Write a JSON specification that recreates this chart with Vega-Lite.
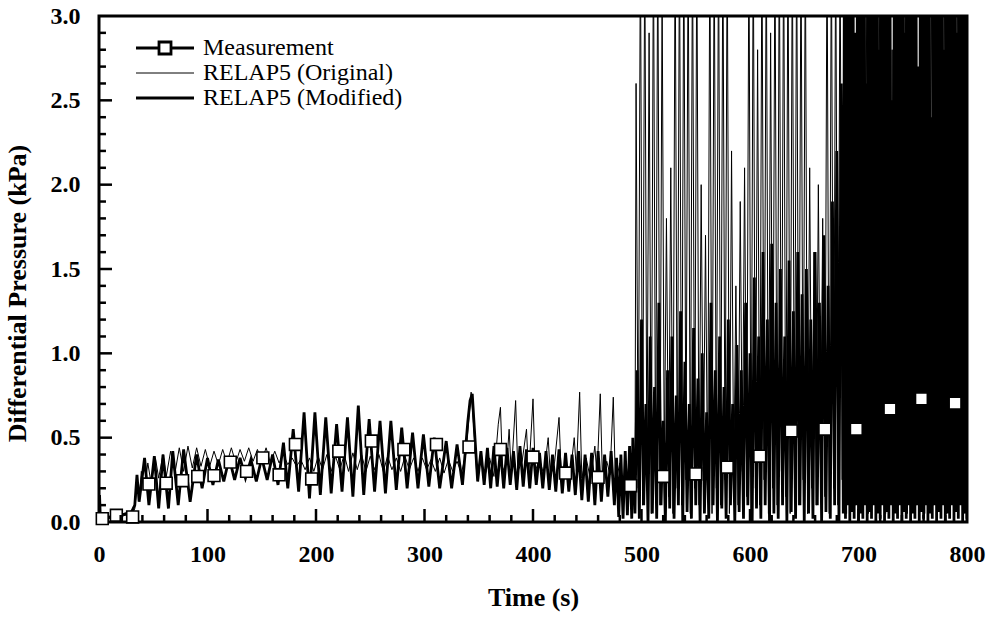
{
"$schema": "https://vega.github.io/schema/vega-lite/v6.json",
"width": 868, "height": 506,
"autosize": {"type": "none"},
"padding": {"left": 99, "top": 16, "right": 26, "bottom": 98},
"background": "white",
"config": {
  "view": {"stroke": "black", "strokeWidth": 3},
  "font": "Liberation Serif",
  "axis": {"domain": false, "ticks": false, "tickSize": 0, "grid": false,
    "labelFont": "Liberation Serif", "labelFontWeight": "bold", "labelFontSize": 24, "labelColor": "black", "labelOverlap": false, "labelFlush": false, "labelBound": false,
    "titleFont": "Liberation Serif", "titleFontWeight": "bold", "titleFontSize": 26, "titleColor": "black"}
},
"resolve": {"axis": {"x": "independent", "y": "independent"}},
"datasets": {
"mod": [
{"t":0,"p":0},{"t":0.5,"p":0.16},{"t":1.2,"p":0.03},{"t":5,"p":0.02},{"t":10,"p":0.03},{"t":15,"p":0.03},{"t":20,"p":0.04},{"t":25,"p":0.05},{"t":30,"p":0.06},{"t":33,"p":0.1},{"t":35,"p":0.28},{"t":37,"p":0.12},{"t":42,"p":0.38},{"t":46,"p":0.1},{"t":51,"p":0.39},{"t":55,"p":0.08},{"t":59,"p":0.4},{"t":64,"p":0.08},{"t":68,"p":0.42},{"t":73,"p":0.1},{"t":78,"p":0.43},{"t":84,"p":0.12},{"t":90,"p":0.4},{"t":95,"p":0.2},{"t":100,"p":0.38},{"t":105,"p":0.22},{"t":110,"p":0.37},{"t":115,"p":0.24},{"t":120,"p":0.38},{"t":125,"p":0.25},{"t":130,"p":0.38},{"t":135,"p":0.26},{"t":140,"p":0.37},{"t":145,"p":0.24},{"t":150,"p":0.38},{"t":155,"p":0.25},{"t":160,"p":0.4},{"t":165,"p":0.22},{"t":170,"p":0.47},{"t":174,"p":0.2},{"t":179,"p":0.55},{"t":184,"p":0.18},{"t":189,"p":0.65},{"t":194,"p":0.14},{"t":199,"p":0.65},{"t":204,"p":0.16},{"t":209,"p":0.62},{"t":214,"p":0.17},{"t":219,"p":0.58},{"t":224,"p":0.18},{"t":229,"p":0.62},{"t":234,"p":0.15},{"t":239,"p":0.69},{"t":244,"p":0.16},{"t":249,"p":0.61},{"t":254,"p":0.18},{"t":259,"p":0.6},{"t":264,"p":0.17},{"t":269,"p":0.6},{"t":274,"p":0.19},{"t":279,"p":0.56},{"t":284,"p":0.2},{"t":289,"p":0.53},{"t":294,"p":0.2},{"t":299,"p":0.52},{"t":304,"p":0.21},{"t":309,"p":0.5},{"t":314,"p":0.2},{"t":320,"p":0.48},{"t":325,"p":0.2},{"t":330,"p":0.46},{"t":335,"p":0.22},{"t":340,"p":0.6},{"t":342,"p":0.72},{"t":344,"p":0.76},{"t":346,"p":0.55},{"t":349,"p":0.24},{"t":352,"p":0.42},{"t":355,"p":0.22},{"t":358,"p":0.44},{"t":361,"p":0.2},{"t":364,"p":0.45},{"t":367,"p":0.21},{"t":370,"p":0.43},{"t":373,"p":0.2},{"t":376,"p":0.44},{"t":379,"p":0.22},{"t":382,"p":0.42},{"t":385,"p":0.19},{"t":388,"p":0.45},{"t":391,"p":0.21},{"t":394,"p":0.43},{"t":397,"p":0.2},{"t":400,"p":0.44},{"t":403,"p":0.22},{"t":406,"p":0.41},{"t":409,"p":0.2},{"t":412,"p":0.42},{"t":415,"p":0.19},{"t":418,"p":0.4},{"t":421,"p":0.18},{"t":424,"p":0.43},{"t":427,"p":0.17},{"t":430,"p":0.41},{"t":433,"p":0.18},{"t":436,"p":0.4},{"t":439,"p":0.16},{"t":442,"p":0.42},{"t":445,"p":0.13},{"t":448,"p":0.4},{"t":451,"p":0.12},{"t":454,"p":0.41},{"t":457,"p":0.1},{"t":460,"p":0.42},{"t":463,"p":0.12},{"t":466,"p":0.4},{"t":469,"p":0.15},{"t":472,"p":0.42},{"t":475,"p":0.1},{"t":477,"p":0.38},{"t":479,"p":0.03},{"t":481,"p":0.4},{"t":483,"p":0.02},{"t":485,"p":0.42},{"t":487,"p":0.04},{"t":489,"p":0.45},{"t":491,"p":0.02},{"t":492,"p":0.5},
{"t":494,"p":0.05},{"t":496,"p":0.9},{"t":498,"p":0.02},{"t":500,"p":1.2},{"t":502,"p":0.1},{"t":504,"p":0.7},{"t":506,"p":0.0},{"t":508,"p":1.1},{"t":510,"p":0.05},{"t":512,"p":0.8},{"t":514,"p":0.02},{"t":516,"p":1.3},{"t":518,"p":0.1},{"t":520,"p":0.6},{"t":522,"p":0.0},{"t":524,"p":0.9},{"t":526,"p":0.08},{"t":528,"p":1.1},{"t":530,"p":0.02},{"t":532,"p":0.75},{"t":534,"p":0.1},{"t":536,"p":1.25},{"t":538,"p":0.0},{"t":540,"p":0.95},{"t":542,"p":0.06},{"t":544,"p":0.7},{"t":546,"p":0.02},{"t":548,"p":1.15},{"t":550,"p":0.1},{"t":552,"p":0.85},{"t":554,"p":0.0},{"t":556,"p":1.0},{"t":558,"p":0.05},{"t":560,"p":0.65},{"t":562,"p":0.02},{"t":564,"p":1.3},{"t":566,"p":0.1},{"t":568,"p":0.9},{"t":570,"p":0.0},{"t":572,"p":1.1},{"t":574,"p":0.08},{"t":576,"p":0.8},{"t":578,"p":0.02},{"t":580,"p":1.2},{"t":582,"p":0.1},{"t":584,"p":0.7},{"t":586,"p":0.0},{"t":588,"p":1.05},{"t":590,"p":0.06},{"t":592,"p":0.9},{"t":594,"p":0.02},{"t":596,"p":1.3},{"t":598,"p":0.1},{"t":600,"p":1.0},{"t":602,"p":0.0},{"t":604,"p":1.45},{"t":606,"p":0.08},{"t":608,"p":1.1},{"t":610,"p":0.02},{"t":612,"p":1.6},{"t":614,"p":0.1},{"t":616,"p":1.2},{"t":618,"p":0.0},{"t":620,"p":1.65},{"t":622,"p":0.05},{"t":624,"p":1.3},{"t":626,"p":0.02},{"t":628,"p":1.5},{"t":630,"p":0.1},{"t":632,"p":1.1},{"t":634,"p":0.0},{"t":636,"p":1.55},{"t":638,"p":0.06},{"t":640,"p":1.25},{"t":642,"p":0.02},{"t":644,"p":1.6},{"t":646,"p":0.1},{"t":648,"p":1.35},{"t":650,"p":0.0},{"t":652,"p":1.5},{"t":654,"p":0.05},{"t":656,"p":1.2},{"t":658,"p":0.02},{"t":660,"p":1.6},{"t":662,"p":0.1},{"t":664,"p":1.3},{"t":666,"p":0.0},{"t":668,"p":1.7},{"t":670,"p":0.06},{"t":672,"p":1.4},{"t":674,"p":0.02},{"t":676,"p":1.9},{"t":678,"p":0.1},{"t":680,"p":2.2},{"t":682,"p":0.0},{"t":684,"p":2.6},
{"t":686,"p":0.05},{"t":687,"p":3.5},{"t":688,"p":0.02},{"t":689,"p":3.5},{"t":690,"p":0.1},{"t":691,"p":3.5},{"t":692,"p":0.0},{"t":693,"p":3.5},{"t":694,"p":0.06},{"t":695,"p":3.5},{"t":696,"p":0.02},{"t":697,"p":2.9},{"t":698,"p":0.1},{"t":699,"p":3.5},{"t":700,"p":0.0},{"t":701,"p":3.5},{"t":702,"p":0.05},{"t":703,"p":3.5},{"t":704,"p":0.02},{"t":705,"p":3.5},{"t":706,"p":0.1},{"t":707,"p":2.6},{"t":708,"p":0.0},{"t":709,"p":3.5},{"t":710,"p":0.06},{"t":711,"p":3.5},{"t":712,"p":0.02},{"t":713,"p":3.5},{"t":714,"p":0.1},{"t":715,"p":3.5},{"t":716,"p":0.0},{"t":717,"p":3.5},{"t":718,"p":0.05},{"t":719,"p":2.8},{"t":720,"p":0.02},{"t":721,"p":3.5},{"t":722,"p":0.1},{"t":723,"p":3.5},{"t":724,"p":0.0},{"t":725,"p":3.5},{"t":726,"p":0.06},{"t":727,"p":3.5},{"t":728,"p":0.02},{"t":729,"p":3.5},{"t":730,"p":0.1},{"t":731,"p":2.5},{"t":732,"p":0.0},{"t":733,"p":3.5},{"t":734,"p":0.05},{"t":735,"p":3.5},{"t":736,"p":0.02},{"t":737,"p":3.5},{"t":738,"p":0.1},{"t":739,"p":3.5},{"t":740,"p":0.0},{"t":741,"p":3.5},{"t":742,"p":0.06},{"t":743,"p":2.9},{"t":744,"p":0.02},{"t":745,"p":3.5},{"t":746,"p":0.1},{"t":747,"p":3.5},{"t":748,"p":0.0},{"t":749,"p":3.5},{"t":750,"p":0.05},{"t":751,"p":3.5},{"t":752,"p":0.02},{"t":753,"p":3.5},{"t":754,"p":0.1},{"t":755,"p":2.7},{"t":756,"p":0.0},{"t":757,"p":3.5},{"t":758,"p":0.06},{"t":759,"p":3.5},{"t":760,"p":0.02},{"t":761,"p":3.5},{"t":762,"p":0.1},{"t":763,"p":3.5},{"t":764,"p":0.0},{"t":765,"p":3.5},{"t":766,"p":0.05},{"t":767,"p":2.4},{"t":768,"p":0.02},{"t":769,"p":3.5},{"t":770,"p":0.1},{"t":771,"p":3.5},{"t":772,"p":0.0},{"t":773,"p":3.5},{"t":774,"p":0.06},{"t":775,"p":3.5},{"t":776,"p":0.02},{"t":777,"p":3.5},{"t":778,"p":0.1},{"t":779,"p":2.8},{"t":780,"p":0.0},{"t":781,"p":3.5},{"t":782,"p":0.05},{"t":783,"p":3.5},{"t":784,"p":0.02},{"t":785,"p":3.5},{"t":786,"p":0.1},{"t":787,"p":3.5},{"t":788,"p":0.0},{"t":789,"p":3.5},{"t":790,"p":0.06},{"t":791,"p":2.9},{"t":792,"p":0.02},{"t":793,"p":3.5},{"t":794,"p":0.1},{"t":795,"p":3.5},{"t":796,"p":0.0},{"t":797,"p":3.5},{"t":798,"p":0.05},{"t":799,"p":3.5},{"t":800,"p":0.02}
],
"orig": [
{"t":0,"p":0},{"t":0.6,"p":0.14},{"t":1.2,"p":0.02},{"t":4,"p":0.01},{"t":8,"p":0.02},{"t":12,"p":0.02},{"t":16,"p":0.03},{"t":20,"p":0.03},{"t":24,"p":0.04},{"t":28,"p":0.04},{"t":31,"p":0.05},{"t":33,"p":0.08},{"t":35,"p":0.22},{"t":37,"p":0.14},{"t":39,"p":0.3},{"t":42,"p":0.2},{"t":45,"p":0.35},{"t":48,"p":0.23},{"t":52,"p":0.38},{"t":55,"p":0.26},{"t":59,"p":0.4},{"t":62,"p":0.27},{"t":66,"p":0.42},{"t":70,"p":0.29},{"t":74,"p":0.44},{"t":78,"p":0.3},{"t":82,"p":0.45},{"t":86,"p":0.32},{"t":90,"p":0.44},{"t":94,"p":0.33},{"t":98,"p":0.43},{"t":102,"p":0.33},{"t":106,"p":0.42},{"t":110,"p":0.34},{"t":114,"p":0.43},{"t":118,"p":0.35},{"t":122,"p":0.44},{"t":126,"p":0.35},{"t":130,"p":0.43},{"t":134,"p":0.36},{"t":138,"p":0.44},{"t":142,"p":0.36},{"t":146,"p":0.43},{"t":150,"p":0.36},{"t":154,"p":0.44},{"t":158,"p":0.35},{"t":162,"p":0.42},{"t":166,"p":0.35},{"t":170,"p":0.4},{"t":174,"p":0.34},{"t":178,"p":0.38},{"t":182,"p":0.33},
{"t":186,"p":0.37},{"t":190,"p":0.31},{"t":194,"p":0.38},{"t":198,"p":0.3},{"t":202,"p":0.39},{"t":206,"p":0.31},{"t":210,"p":0.4},{"t":214,"p":0.3},{"t":218,"p":0.39},{"t":222,"p":0.31},{"t":226,"p":0.4},{"t":230,"p":0.3},{"t":234,"p":0.41},{"t":238,"p":0.31},{"t":242,"p":0.4},{"t":246,"p":0.3},{"t":250,"p":0.39},{"t":254,"p":0.31},{"t":258,"p":0.4},{"t":262,"p":0.3},{"t":266,"p":0.39},{"t":270,"p":0.31},{"t":274,"p":0.38},{"t":278,"p":0.3},{"t":282,"p":0.39},{"t":286,"p":0.31},{"t":290,"p":0.38},{"t":294,"p":0.3},{"t":298,"p":0.38},{"t":302,"p":0.31},{"t":306,"p":0.37},{"t":310,"p":0.3},{"t":314,"p":0.38},{"t":318,"p":0.29},{"t":322,"p":0.37},{"t":326,"p":0.3},{"t":330,"p":0.36},{"t":334,"p":0.29},{"t":338,"p":0.4},{"t":341,"p":0.62},{"t":343,"p":0.77},{"t":345,"p":0.6},{"t":348,"p":0.3},{"t":352,"p":0.36},{"t":356,"p":0.28},{"t":360,"p":0.38},{"t":364,"p":0.27},{"t":368,"p":0.58},{"t":370,"p":0.68},{"t":372,"p":0.3},{"t":376,"p":0.36},{"t":378,"p":0.55},{"t":380,"p":0.28},{"t":384,"p":0.72},{"t":386,"p":0.3},{"t":390,"p":0.36},{"t":394,"p":0.55},{"t":396,"p":0.27},{"t":400,"p":0.73},{"t":402,"p":0.3},{"t":406,"p":0.37},{"t":410,"p":0.28},{"t":414,"p":0.5},{"t":416,"p":0.27},{"t":420,"p":0.36},{"t":424,"p":0.62},{"t":426,"p":0.28},{"t":430,"p":0.35},{"t":434,"p":0.26},{"t":438,"p":0.5},{"t":440,"p":0.3},{"t":443,"p":0.77},{"t":445,"p":0.26},{"t":449,"p":0.38},{"t":453,"p":0.25},{"t":457,"p":0.45},{"t":459,"p":0.27},{"t":462,"p":0.76},{"t":464,"p":0.25},{"t":468,"p":0.36},{"t":471,"p":0.28},{"t":474,"p":0.74},{"t":476,"p":0.22},{"t":480,"p":0.35},{"t":483,"p":0.2},{"t":486,"p":0.33},{"t":489,"p":0.18},{"t":492,"p":0.3},{"t":494,"p":0.22},
{"t":495,"p":2.6},{"t":497,"p":0.2},{"t":499,"p":3.5},{"t":501,"p":0.1},{"t":503,"p":3.5},{"t":505,"p":0.25},{"t":507,"p":2.9},{"t":509,"p":0.05},{"t":511,"p":3.5},{"t":513,"p":0.2},{"t":515,"p":3.5},{"t":517,"p":0.1},{"t":519,"p":3.2},{"t":521,"p":0.3},{"t":523,"p":1.8},{"t":525,"p":0.15},{"t":527,"p":2.1},{"t":529,"p":0.05},{"t":531,"p":3.5},{"t":533,"p":0.2},{"t":535,"p":3.5},{"t":537,"p":0.1},{"t":539,"p":3.5},{"t":541,"p":0.25},{"t":543,"p":3.5},{"t":545,"p":0.05},{"t":547,"p":3.5},{"t":549,"p":0.2},{"t":551,"p":3.5},{"t":553,"p":0.1},{"t":555,"p":2.0},{"t":557,"p":0.3},{"t":559,"p":1.7},{"t":561,"p":0.15},{"t":563,"p":3.5},{"t":565,"p":0.05},{"t":567,"p":3.5},{"t":569,"p":0.2},{"t":571,"p":3.5},{"t":573,"p":0.1},{"t":575,"p":3.5},{"t":577,"p":0.25},{"t":579,"p":3.5},{"t":581,"p":0.05},{"t":583,"p":2.2},{"t":585,"p":0.2},{"t":587,"p":1.4},{"t":589,"p":0.1},{"t":591,"p":1.9},{"t":593,"p":0.3},{"t":595,"p":2.1},{"t":597,"p":0.15},{"t":599,"p":3.5},{"t":601,"p":0.05},{"t":603,"p":3.5},{"t":605,"p":0.2},{"t":607,"p":2.8},{"t":609,"p":0.1},{"t":611,"p":3.5},{"t":613,"p":0.25},{"t":615,"p":3.5},{"t":617,"p":0.05},{"t":619,"p":2.9},{"t":621,"p":0.2},{"t":623,"p":3.5},{"t":625,"p":0.1},{"t":627,"p":3.5},{"t":629,"p":0.3},{"t":631,"p":3.5},{"t":633,"p":0.15},{"t":635,"p":3.5},{"t":637,"p":0.05},{"t":639,"p":3.5},{"t":641,"p":0.2},{"t":643,"p":3.5},{"t":645,"p":0.1},{"t":647,"p":3.5},{"t":649,"p":0.25},{"t":651,"p":3.5},{"t":653,"p":0.05},{"t":655,"p":2.1},{"t":657,"p":0.2},{"t":659,"p":1.6},{"t":661,"p":0.1},{"t":663,"p":2.0},{"t":665,"p":0.3},{"t":667,"p":1.8},{"t":669,"p":0.15},{"t":671,"p":3.5},{"t":673,"p":0.05},{"t":675,"p":3.5},{"t":677,"p":0.2},{"t":679,"p":3.5},{"t":681,"p":0.1},{"t":683,"p":3.5},{"t":685,"p":0.25},{"t":687,"p":3.5},{"t":689,"p":0.05},{"t":691,"p":3.5},{"t":693,"p":0.2},{"t":695,"p":2.7},{"t":697,"p":0.1},{"t":699,"p":3.5},{"t":701,"p":0.3},{"t":703,"p":3.5},{"t":705,"p":0.15},{"t":707,"p":3.5},{"t":709,"p":0.05},{"t":711,"p":2.5},{"t":713,"p":0.2},{"t":715,"p":3.5},{"t":717,"p":0.1},{"t":719,"p":3.5},{"t":721,"p":0.25},{"t":723,"p":3.5},{"t":725,"p":0.05},{"t":727,"p":3.5},{"t":729,"p":0.2},{"t":731,"p":2.8},{"t":733,"p":0.1},{"t":735,"p":3.5},{"t":737,"p":0.3},{"t":739,"p":3.5},{"t":741,"p":0.15},{"t":743,"p":3.5},{"t":745,"p":0.05},{"t":747,"p":3.5},{"t":749,"p":0.2},{"t":751,"p":3.5},{"t":753,"p":0.1},{"t":755,"p":2.6},{"t":757,"p":0.25},{"t":759,"p":3.5},{"t":761,"p":0.05},{"t":763,"p":3.5},{"t":765,"p":0.2},{"t":767,"p":3.5},{"t":769,"p":0.1},{"t":771,"p":3.5},{"t":773,"p":0.3},{"t":775,"p":2.9},{"t":777,"p":0.15},{"t":779,"p":3.5},{"t":781,"p":0.05},{"t":783,"p":3.5},{"t":785,"p":0.2},{"t":787,"p":3.5},{"t":789,"p":0.1},{"t":791,"p":3.5},{"t":793,"p":0.25},{"t":795,"p":3.5},{"t":797,"p":0.05},{"t":799,"p":3.5}
],
"meas": [
{"t":3,"p":0.02},{"t":16,"p":0.04},{"t":31,"p":0.03},{"t":46,"p":0.225},{"t":62,"p":0.23},{"t":77,"p":0.245},{"t":91,"p":0.27},{"t":106,"p":0.275},{"t":121,"p":0.355},{"t":136,"p":0.3},{"t":151,"p":0.38},{"t":166,"p":0.28},{"t":181,"p":0.46},{"t":196,"p":0.255},{"t":221,"p":0.42},{"t":251,"p":0.48},{"t":281,"p":0.43},{"t":311,"p":0.46},{"t":341,"p":0.445},{"t":370,"p":0.43},{"t":400,"p":0.385},{"t":430,"p":0.29},{"t":460,"p":0.265},{"t":490,"p":0.215},{"t":520,"p":0.27},{"t":550,"p":0.285},{"t":579,"p":0.325},{"t":609,"p":0.39},{"t":638,"p":0.54},{"t":669,"p":0.55},{"t":698,"p":0.55},{"t":729,"p":0.67},{"t":758,"p":0.73},{"t":789,"p":0.705}
],
"xMajor": [{"v":100},{"v":200},{"v":300},{"v":400},{"v":500},{"v":600},{"v":700}],
"xMinor": [{"v":20},{"v":40},{"v":60},{"v":80},{"v":120},{"v":140},{"v":160},{"v":180},{"v":220},{"v":240},{"v":260},{"v":280},{"v":320},{"v":340},{"v":360},{"v":380},{"v":420},{"v":440},{"v":460},{"v":480},{"v":520},{"v":540},{"v":560},{"v":580},{"v":620},{"v":640},{"v":660},{"v":680},{"v":720},{"v":740},{"v":760},{"v":780}],
"yMajor": [{"v":0.5},{"v":1.0},{"v":1.5},{"v":2.0},{"v":2.5}],
"yMinor": [{"v":0.1},{"v":0.2},{"v":0.3},{"v":0.4},{"v":0.6},{"v":0.7},{"v":0.8},{"v":0.9},{"v":1.1},{"v":1.2},{"v":1.3},{"v":1.4},{"v":1.6},{"v":1.7},{"v":1.8},{"v":1.9},{"v":2.1},{"v":2.2},{"v":2.3},{"v":2.4},{"v":2.6},{"v":2.7},{"v":2.8},{"v":2.9}]
},
"layer": [
{
  "data": {"name": "mod"},
  "mark": {"type": "line", "strokeWidth": 2.8, "clip": true},
  "encoding": {
    "x": {"field": "t", "type": "quantitative", "scale": {"domain": [0, 800], "nice": false},
      "axis": {"orient": "bottom", "title": "Time (s)", "values": [0,100,200,300,400,500,600,700,800], "format": "d",
        "labelPadding": 20, "titlePadding": 18}},
    "y": {"field": "p", "type": "quantitative", "scale": {"domain": [0, 3], "nice": false},
      "axis": {"orient": "left", "title": "Differential Pressure (kPa)", "values": [0,0.5,1.0,1.5,2.0,2.5,3.0], "format": ".1f",
        "labelPadding": 19, "titlePadding": 20, "titleY": 277}},
    "color": {"datum": "RELAP5 (Modified)", "type": "nominal",
      "scale": {"domain": ["Measurement", "RELAP5 (Original)", "RELAP5 (Modified)"], "range": ["black", "black", "black"]},
      "legend": {"title": null, "orient": "none", "legendX": 54, "legendY": 20, "labelFont": "Liberation Serif", "labelFontSize": 24, "labelFontWeight": "normal", "labelColor": "black", "labelLimit": 400, "labelOffset": 26, "rowPadding": 1, "symbolSize": 400, "symbolType": "stroke",
        "encode": {"symbols": {"update": {
          "shape": {"signal": "datum.value == 'Measurement' ? 'M-2.9,0H-0.6M0.6,0H2.9M-0.6,-0.6H0.6V0.6H-0.6Z' : 'M-2.9,0H2.9'"},
          "fill": {"value": "white"}, "stroke": {"value": "black"}, "opacity": {"value": 1}, "fillOpacity": {"value": 1}, "strokeOpacity": {"value": 1},
          "strokeWidth": {"signal": "datum.value == 'RELAP5 (Original)' ? 1 : 2.8"}}}}}}
  }
},
{
  "data": {"name": "orig"},
  "mark": {"type": "line", "strokeWidth": 1, "clip": true},
  "encoding": {
    "x": {"field": "t", "type": "quantitative", "axis": null},
    "y": {"field": "p", "type": "quantitative", "axis": null},
    "color": {"datum": "RELAP5 (Original)", "type": "nominal"}
  }
},
{
  "data": {"name": "meas"},
  "mark": {"type": "point", "shape": "square", "size": 140, "filled": true, "fill": "white", "stroke": "black", "strokeWidth": 1.6, "opacity": 1},
  "encoding": {
    "x": {"field": "t", "type": "quantitative", "axis": null},
    "y": {"field": "p", "type": "quantitative", "axis": null}
  }
},
{
  "data": {"name": "xMajor"},
  "mark": {"type": "tick", "orient": "vertical", "size": 13, "thickness": 2.5, "color": "black", "opacity": 1},
  "encoding": {
    "x": {"field": "v", "type": "quantitative", "axis": null},
    "y": {"datum": 0.0385, "type": "quantitative", "axis": null}
  }
},
{
  "data": {"name": "xMinor"},
  "mark": {"type": "tick", "orient": "vertical", "size": 7, "thickness": 2.5, "color": "black", "opacity": 1},
  "encoding": {
    "x": {"field": "v", "type": "quantitative", "axis": null},
    "y": {"datum": 0.0207, "type": "quantitative", "axis": null}
  }
},
{
  "data": {"name": "yMajor"},
  "mark": {"type": "tick", "orient": "horizontal", "size": 13, "thickness": 2.5, "color": "black", "opacity": 1},
  "encoding": {
    "y": {"field": "v", "type": "quantitative", "axis": null},
    "x": {"datum": 6.0, "type": "quantitative", "axis": null}
  }
},
{
  "data": {"name": "yMinor"},
  "mark": {"type": "tick", "orient": "horizontal", "size": 7, "thickness": 2.5, "color": "black", "opacity": 1},
  "encoding": {
    "y": {"field": "v", "type": "quantitative", "axis": null},
    "x": {"datum": 3.2, "type": "quantitative", "axis": null}
  }
}
]
}
